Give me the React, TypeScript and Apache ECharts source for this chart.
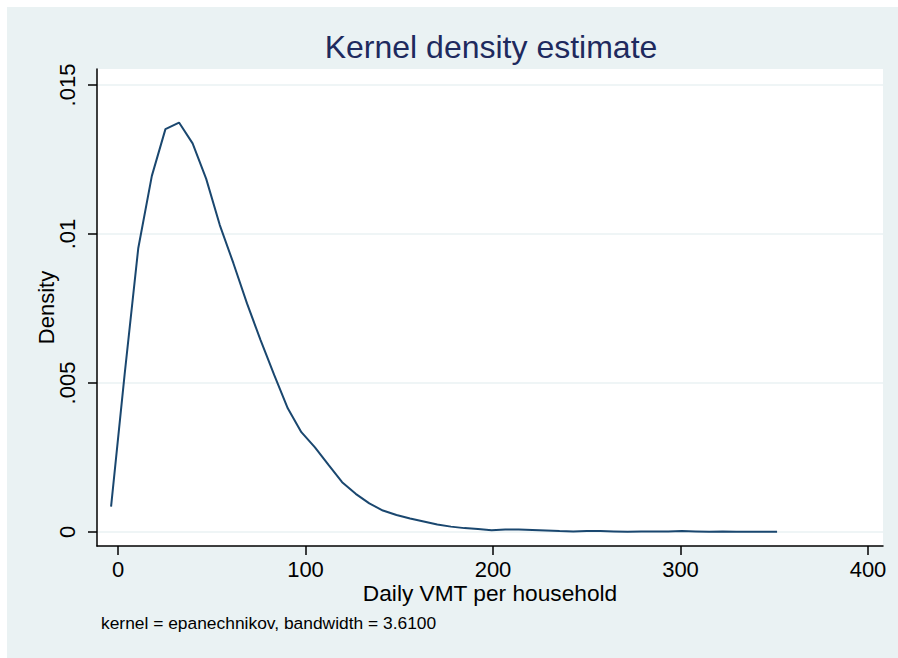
import React, { useEffect, useRef } from "react";
import * as echarts from "echarts";

// Evaluation points (Stata kdensity default n = 50)
const xValues: number[] = [
  -3.7, 3.55, 10.8, 18.05, 25.3, 32.55, 39.79, 47.04, 54.29, 61.54,
  68.79, 76.04, 83.29, 90.54, 97.79, 105.04, 112.28, 119.53, 126.78, 134.03,
  141.28, 148.53, 155.78, 163.03, 170.28, 177.53, 184.77, 192.02, 199.27, 206.52,
  213.77, 221.02, 228.27, 235.52, 242.77, 250.02, 257.26, 264.51, 271.76, 279.01,
  286.26, 293.51, 300.76, 308.01, 315.26, 322.51, 329.75, 337.0, 344.25, 351.5,
];

// Density estimates
const densityValues: number[] = [
  0.00085, 0.0053, 0.00952, 0.01195, 0.01352, 0.01374, 0.01304, 0.01185, 0.0103, 0.00902,
  0.00767, 0.00644, 0.00527, 0.00415, 0.00335, 0.00284, 0.00225, 0.00167, 0.00128, 0.00096,
  0.00072, 0.00057, 0.00045, 0.00035, 0.00025, 0.00018, 0.00013, 0.0001, 0.00006, 0.00008,
  0.00008, 0.00007, 0.00005, 0.00003, 0.00002, 0.00003, 0.00003, 0.00002, 0.00001, 0.00002,
  0.00002, 0.00002, 0.00003, 0.00002, 0.00001, 0.00002, 0.00001, 0.00001, 0.00001, 0.00001,
];

const xTicks: number[] = [0, 100, 200, 300, 400];
const yTicks: number[] = [0, 0.005, 0.01, 0.015];
const yTickLabels: string[] = ["0", ".005", ".01", ".015"];

const titleText = "Kernel density estimate";
const xAxisTitle = "Daily VMT per household";
const yAxisTitle = "Density";
const noteText = "kernel = epanechnikov, bandwidth = 3.6100";

const FONT = "Liberation Sans, Arial, sans-serif";

export default function App() {
  const ref = useRef<HTMLDivElement>(null);

  useEffect(() => {
    if (!ref.current) return;
    const chart = echarts.init(ref.current, undefined, { renderer: "svg" });
    const data = xValues.map((x, i) => [x, densityValues[i]]);
    chart.setOption({
      animation: false,
      backgroundColor: "#EAF2F3",
      title: {
        text: titleText,
        left: 479,
        top: 19,
        textAlign: "center",
        textStyle: {
          fontFamily: FONT,
          fontSize: 32,
          fontWeight: "normal",
          color: "#1E2A5E",
        },
      },
      grid: {
        left: 90,
        top: 62,
        right: 15,
        bottom: 112,
        show: true,
        backgroundColor: "#FFFFFF",
        borderWidth: 0,
        containLabel: false,
      },
      xAxis: {
        type: "value",
        min: -11.2,
        max: 408,
        name: xAxisTitle,
        nameLocation: "middle",
        nameGap: 35,
        nameMoveOverlap: false,
        nameTextStyle: { fontFamily: FONT, fontSize: 22.7, color: "#000" },
        axisLine: { show: true, onZero: false, lineStyle: { color: "#000", width: 1.5 } },
        axisTick: {
          show: true,
          length: 9,
          customValues: xTicks,
          lineStyle: { color: "#000", width: 1.5 },
        },
        axisLabel: {
          customValues: xTicks,
          margin: 12,
          fontFamily: FONT,
          fontSize: 22,
          color: "#000",
        },
        splitLine: { show: false },
      },
      yAxis: {
        type: "value",
        min: -0.00047,
        max: 0.015537,
        name: yAxisTitle,
        nameLocation: "middle",
        nameGap: 40,
        nameMoveOverlap: false,
        nameRotate: 90,
        nameTextStyle: { fontFamily: FONT, fontSize: 22, color: "#000" },
        axisLine: { show: true, onZero: false, lineStyle: { color: "#000", width: 1.5 } },
        axisTick: {
          show: true,
          length: 9,
          customValues: yTicks,
          lineStyle: { color: "#000", width: 1.5 },
        },
        axisLabel: {
          customValues: yTicks,
          rotate: 90,
          margin: 19,
          fontFamily: FONT,
          fontSize: 22,
          color: "#000",
          formatter: (v: number) => {
            const idx = yTicks.findIndex((t) => Math.abs(t - v) < 1e-9);
            return idx >= 0 ? yTickLabels[idx] : "";
          },
        },
        splitLine: { show: true, lineStyle: { color: "#EAF2F3", width: 1.5 } },
      },
      graphic: [
        {
          type: "text",
          left: 94,
          top: 607,
          style: {
            text: noteText,
            fontFamily: FONT,
            fontSize: 17.4,
            fill: "#000",
          },
        },
      ],
      series: [
        {
          type: "line",
          data,
          showSymbol: false,
          symbol: "none",
          lineStyle: { color: "#1A476F", width: 2 },
          itemStyle: { color: "#1A476F" },
        },
      ],
    });
    return () => chart.dispose();
  }, []);

  return (
    <div
      style={{
        position: "fixed",
        left: 0,
        top: 0,
        width: 898,
        height: 658,
        background: "#FFFFFF",
      }}
    >
      <div
        ref={ref}
        style={{ position: "absolute", left: 7, top: 7, width: 891, height: 651 }}
      />
    </div>
  );
}
